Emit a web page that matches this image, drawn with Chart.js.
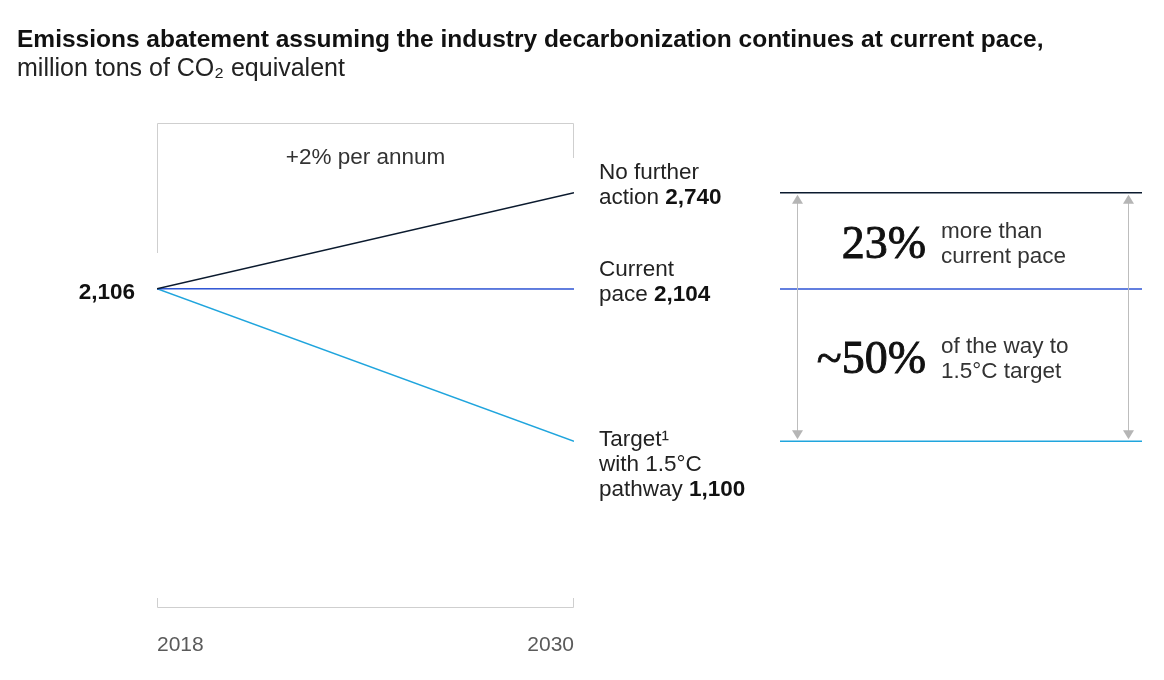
<!DOCTYPE html>
<html lang="en">
<head>
<meta charset="UTF-8">
<title>Emissions abatement</title>
<script src="https://cdn.jsdelivr.net/npm/chart.js"></script>
<style>
    body {
        margin: 0;
        background: #fff;
        font-family: "Liberation Sans", Arial, sans-serif;
    }
    .wrap {
        position: relative;
        width: 1164px;
        height: 680px;
    }
    .title {
        position: absolute;
        left: 17px;
        top: 24px;
        margin: 0;
        font-size: 24.5px;
        line-height: 29px;
        color: #111;
        white-space: nowrap;
    }
    .title b {
        font-weight: bold;
    }
    .title span {
        font-weight: normal;
        font-size: 25px;
        color: #222;
    }
    canvas {
        position: absolute;
        left: 0;
        top: 0;
    }
</style>
</head>
<body>
<div class="wrap">
    <canvas id="chart" width="1164" height="680"></canvas>
    <div class="title">
        <b>Emissions abatement assuming the industry decarbonization continues at current pace,</b><br>
        <span>million tons of CO₂ equivalent</span>
    </div>
</div>
<script>
    // Données
    const years = [2018, 2030];
    const noFurtherAction = [2106, 2740];
    const currentPace = [2106, 2104];
    const target15 = [2106, 1100];
    const seriesNames = ['No further action', 'Current pace', 'Target with 1.5°C pathway'];
    const seriesColors = ['#0b1a2e', '#2f55d4', '#20a5dd'];
    const yTicks = [0, 3200];

    // étiquettes de fin de ligne : [texte normal, texte gras]
    const endLabels = [
        [['No further', ''], ['action ', '2,740']],
        [['Current', ''], ['pace ', '2,104']],
        [['Target¹', ''], ['with 1.5°C', ''], ['pathway ', '1,100']]
    ];
    const growthNote = '+2% per annum';
    const gapBig = ['23%', '~50%'];
    const gapText = [['more than', 'current pace'], ['of the way to', '1.5°C target']];

    const SANS = '"Liberation Sans", Arial, sans-serif';
    const SERIF = '"Liberation Serif", "Times New Roman", serif';

    function font(size, weight) {
        return (weight || 'normal') + ' ' + size + 'px ' + SANS;
    }

    const decorPlugin = {
        id: 'decor',
        afterDatasetsDraw(chart) {
            const ctx = chart.ctx;
            const xs = chart.scales.x;
            const ys = chart.scales.y;
            const x0 = xs.getPixelForValue(years[0]);
            const x1 = xs.getPixelForValue(years[1]);
            const top = ys.getPixelForValue(yTicks[1]);
            const bottom = ys.getPixelForValue(yTicks[0]);

            ctx.save();

            // crochet du haut
            ctx.strokeStyle = '#cfcfcf';
            ctx.lineWidth = 1;
            ctx.beginPath();
            ctx.moveTo(x0 + 0.5, top + 130);
            ctx.lineTo(x0 + 0.5, top + 0.5);
            ctx.lineTo(x1 - 0.5, top + 0.5);
            ctx.lineTo(x1 - 0.5, top + 35);
            ctx.stroke();

            // crochet du bas
            ctx.beginPath();
            ctx.moveTo(x0 + 0.5, bottom - 10);
            ctx.lineTo(x0 + 0.5, bottom - 0.5);
            ctx.lineTo(x1 - 0.5, bottom - 0.5);
            ctx.lineTo(x1 - 0.5, bottom - 10);
            ctx.stroke();

            // années
            ctx.fillStyle = '#5a5a5a';
            ctx.font = font(21);
            ctx.textBaseline = 'alphabetic';
            ctx.textAlign = 'left';
            ctx.fillText(String(years[0]), x0, bottom + 43);
            ctx.textAlign = 'right';
            ctx.fillText(String(years[1]), x1, bottom + 43);

            // note de croissance
            ctx.font = font(22.5);
            ctx.fillStyle = '#333';
            ctx.textAlign = 'center';
            ctx.textBaseline = 'middle';
            ctx.fillText(growthNote, (x0 + x1) / 2, top + 35);

            // valeur de départ
            const yStart = ys.getPixelForValue(noFurtherAction[0]);
            ctx.fillStyle = '#111';
            ctx.font = font(22.5, 'bold');
            ctx.textAlign = 'right';
            ctx.fillText('2,106', x0 - 22, yStart + 4);

            // étiquettes de fin
            const ends = [noFurtherAction[1], currentPace[1], target15[1]];
            const firstOffset = [-20, -19, -1];
            ctx.textAlign = 'left';
            endLabels.forEach((lines, i) => {
                const yEnd = ys.getPixelForValue(ends[i]);
                lines.forEach((ln, j) => {
                    const ty = yEnd + firstOffset[i] + j * 25;
                    ctx.font = font(22.5);
                    ctx.fillStyle = '#222';
                    ctx.fillText(ln[0], x1 + 25, ty);
                    if (ln[1]) {
                        const w = ctx.measureText(ln[0]).width;
                        ctx.font = font(22.5, 'bold');
                        ctx.fillStyle = '#111';
                        ctx.fillText(ln[1], x1 + 25 + w, ty);
                    }
                });
            });

            // panneau de droite
            const px0 = 780, px1 = 1142;
            const yPix = ends.map(v => ys.getPixelForValue(v));
            yPix.forEach((y, i) => {
                ctx.strokeStyle = seriesColors[i];
                ctx.lineWidth = 1.5;
                ctx.beginPath();
                ctx.moveTo(px0, y);
                ctx.lineTo(px1, y);
                ctx.stroke();
            });

            // flèches
            ctx.strokeStyle = '#bdbdbd';
            ctx.fillStyle = '#b5b5b5';
            ctx.lineWidth = 1;
            [797, 1128].forEach(ax => {
                const a = yPix[0] + 2, b = yPix[2] - 2;
                ctx.beginPath();
                ctx.moveTo(ax + 0.5, a + 6);
                ctx.lineTo(ax + 0.5, b - 6);
                ctx.stroke();
                ctx.beginPath();
                ctx.moveTo(ax + 0.5, a);
                ctx.lineTo(ax - 5, a + 9);
                ctx.lineTo(ax + 6, a + 9);
                ctx.closePath();
                ctx.fill();
                ctx.beginPath();
                ctx.moveTo(ax + 0.5, b);
                ctx.lineTo(ax - 5, b - 9);
                ctx.lineTo(ax + 6, b - 9);
                ctx.closePath();
                ctx.fill();
            });

            // textes des écarts
            const mids = [(yPix[0] + yPix[1]) / 2 + 2, (yPix[1] + yPix[2]) / 2 - 7];
            mids.forEach((m, i) => {
                ctx.fillStyle = '#111';
                ctx.strokeStyle = '#111';
                ctx.lineWidth = 0.9;
                ctx.font = 'normal 46px ' + SERIF;
                ctx.textAlign = 'right';
                ctx.textBaseline = 'middle';
                ctx.fillText(gapBig[i], 926, m + 3);
                ctx.strokeText(gapBig[i], 926, m + 3);
                ctx.font = font(22.5);
                ctx.fillStyle = '#333';
                ctx.textAlign = 'left';
                ctx.fillText(gapText[i][0], 941, m - 11);
                ctx.fillText(gapText[i][1], 941, m + 14);
            });

            ctx.restore();
        }
    };

    const ctx = document.getElementById('chart').getContext('2d');
    new Chart(ctx, {
        type: 'line',
        data: {
            datasets: [noFurtherAction, currentPace, target15].map((s, i) => ({
                label: seriesNames[i],
                data: years.map((yr, k) => ({ x: yr, y: s[k] })),
                borderColor: seriesColors[i],
                borderWidth: 1.5,
                pointRadius: 0,
                tension: 0,
                fill: false
            }))
        },
        options: {
            responsive: false,
            animation: false,
            devicePixelRatio: 1,
            layout: {
                padding: { left: 157, right: 590, top: 123, bottom: 72 }
            },
            plugins: {
                legend: { display: false },
                tooltip: { enabled: false },
                title: { display: false }
            },
            scales: {
                x: { type: 'linear', min: years[0], max: years[1], display: false },
                y: { type: 'linear', min: yTicks[0], max: yTicks[1], display: false }
            }
        },
        plugins: [decorPlugin]
    });
</script>
</body>
</html>
